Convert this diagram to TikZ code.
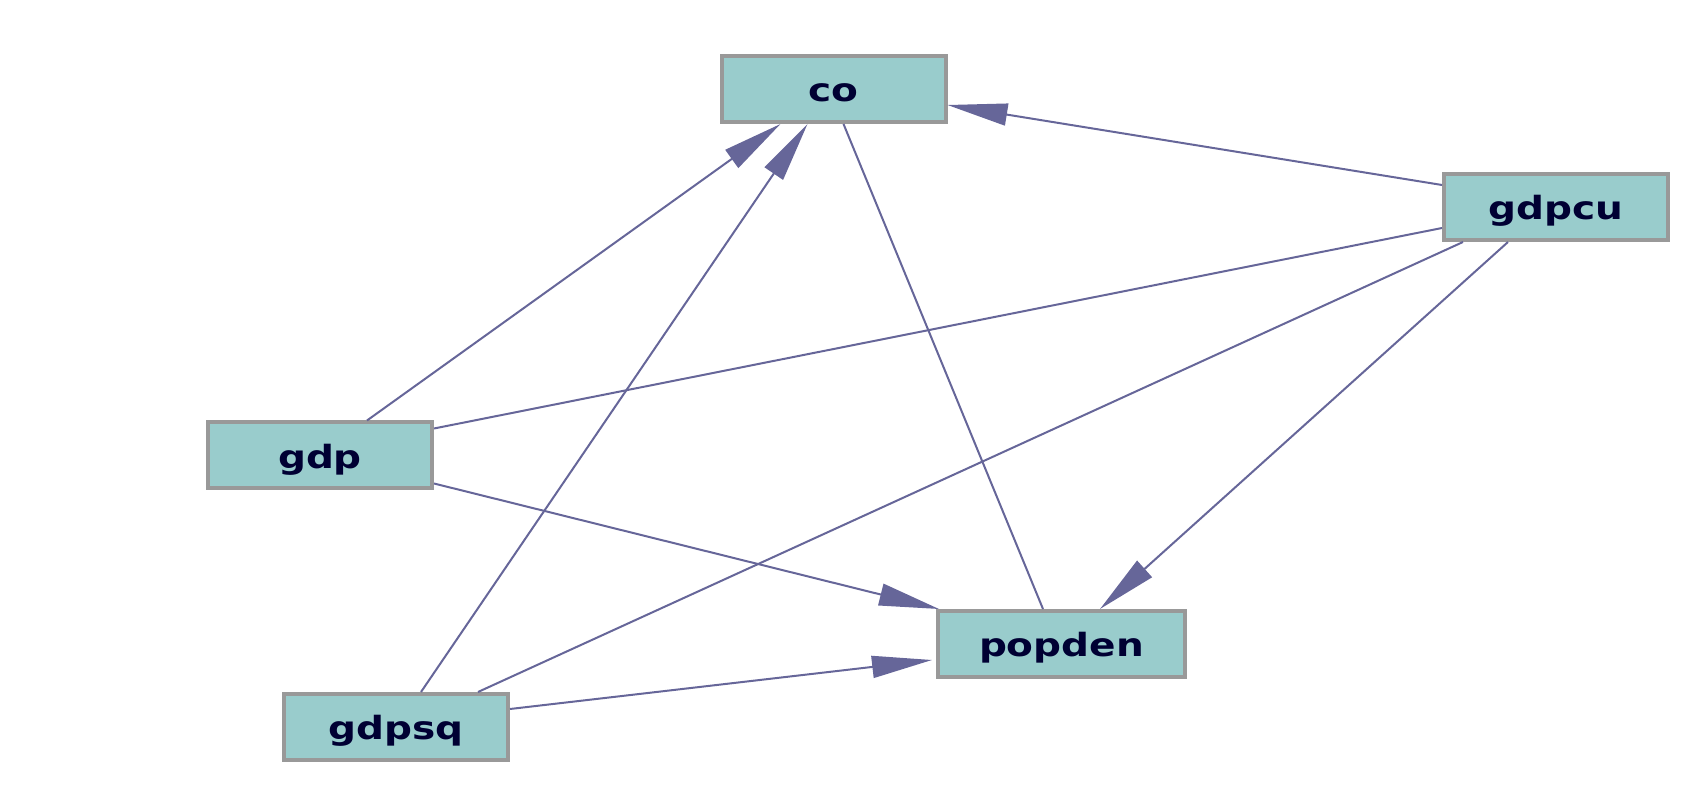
\documentclass[tikz,border=0pt]{standalone}
\usepackage{fontspec}
\newfontfamily\lblfont[FakeStretch=1.22]{DejaVu Sans}
\usetikzlibrary{arrows.meta,calc}
\definecolor{boxfill}{RGB}{153,204,204}
\definecolor{boxline}{RGB}{153,153,153}
\definecolor{edgecol}{RGB}{102,102,153}
\definecolor{txtcol}{RGB}{0,0,51}
\tikzset{
  varbox/.style={rectangle, fill=boxfill, draw=boxline, line width=2pt,
    minimum width=112pt, minimum height=33pt, inner sep=0pt,
    text height=12.8pt, text depth=0pt,
    font=\lblfont\bfseries\fontsize{16}{18}\selectfont, text=txtcol},
  link/.style={draw=edgecol, line width=1pt},
  arr/.style={link, -{Triangle[length=30pt,width=11pt]}}
}
\begin{document}
\begin{tikzpicture}[x=0.5pt,y=-0.5pt]
\useasboundingbox (0,0) rectangle (1704,796);
\node[varbox] (co) at (833.5,89) {co};
\node[varbox] (gdpcu) at (1556,207) {gdpcu};
\node[varbox] (gdp) at (320,455.5) {gdp};
\node[varbox, minimum width=123.5pt] (popden) at (1061.5,644) {popden};
\node[varbox] (gdpsq) at (396,727) {gdpsq};
% undirected links
\draw[link] ($(co.south west)+(124,0)$) -- ($(popden.north west)+(107,0)$);
\draw[link] ($(gdpcu.north west)+(0,56)$) -- ($(gdp.north east)+(0,8)$);
\draw[link] ($(gdpcu.south west)+(21,0)$) -- ($(gdpsq.north west)+(196,0)$);
% directed links
\draw[arr] ($(gdp.north west)+(161,0)$) -- ($(co.south west)+(61,0)$);
\draw[arr] ($(gdpsq.north west)+(139,0)$) -- ($(co.south west)+(88,0)$);
\draw[arr] ($(gdpcu.north west)+(0,13)$) -- ($(co.north east)+(0,51)$);
\draw[arr] ($(gdpcu.south west)+(66,0)$) -- ($(popden.north west)+(164,0)$);
\draw[arr] ($(gdp.north east)+(0,63)$) -- ($(popden.north west)+(3,0)$);
\draw[arr] ($(gdpsq.north east)+(0,17)$) -- ($(popden.north west)+(-4,51)$);
\end{tikzpicture}
\end{document}
